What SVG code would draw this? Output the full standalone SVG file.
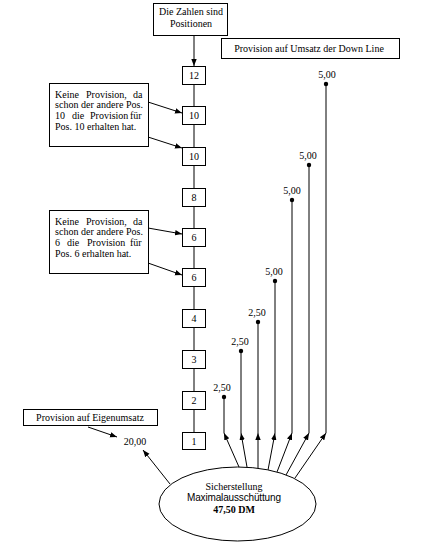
<svg xmlns="http://www.w3.org/2000/svg" width="427" height="551" viewBox="0 0 427 551">
<style>
.bx{fill:#fff;stroke:#000;stroke-width:1}
.ln{stroke:#000;stroke-width:1;fill:none}
.t{font-family:"Liberation Serif",serif;font-size:10px;fill:#000}
.c{text-anchor:middle}
</style>
<defs>
<marker id="ah" markerUnits="userSpaceOnUse" markerWidth="8" markerHeight="7" refX="7" refY="3.5" orient="auto">
<path d="M0,0.8 L7,3.5 L0,6.2 Z" fill="#000"/>
</marker>
<marker id="dot" markerUnits="userSpaceOnUse" markerWidth="6" markerHeight="6" refX="3" refY="3">
<circle cx="3" cy="3" r="2.2" fill="#000"/>
</marker>
</defs>
<rect width="427" height="551" fill="#fff"/>

<g id="connectors">
<line class="ln" x1="194" y1="35" x2="194" y2="66" marker-end="url(#ah)"/>
<path class="ln" d="M194,84.5V106.5 M194,124.5V147.5 M194,165.5V188.5 M194,206.5V228.5 M194,246.5V268.5 M194,286.5V309.5 M194,327.5V350.5 M194,368.5V391.5 M194,409.5V432.5"/>
<line class="ln" x1="148" y1="102" x2="182" y2="113" marker-end="url(#ah)"/>
<line class="ln" x1="148" y1="137" x2="182" y2="148" marker-end="url(#ah)"/>
<line class="ln" x1="148" y1="228" x2="182" y2="234" marker-end="url(#ah)"/>
<line class="ln" x1="148" y1="263" x2="182" y2="275" marker-end="url(#ah)"/>
<line class="ln" x1="88" y1="427" x2="117" y2="437" marker-end="url(#ah)"/>
<line class="ln" x1="170" y1="484" x2="143" y2="450" marker-end="url(#ah)"/>
<line class="ln" x1="239" y1="467" x2="224" y2="433" marker-end="url(#ah)"/>
<line class="ln" x1="247" y1="467" x2="241" y2="433" marker-end="url(#ah)"/>
<line class="ln" x1="258" y1="468" x2="258" y2="433" marker-end="url(#ah)"/>
<line class="ln" x1="268" y1="470" x2="275" y2="433" marker-end="url(#ah)"/>
<line class="ln" x1="277" y1="472" x2="292" y2="433" marker-end="url(#ah)"/>
<line class="ln" x1="286" y1="475" x2="309" y2="433" marker-end="url(#ah)"/>
<line class="ln" x1="295" y1="478" x2="326" y2="433" marker-end="url(#ah)"/>
<line class="ln" x1="224" y1="433" x2="224" y2="397" marker-end="url(#dot)"/>
<line class="ln" x1="241" y1="433" x2="241" y2="351" marker-end="url(#dot)"/>
<line class="ln" x1="258" y1="433" x2="258" y2="322" marker-end="url(#dot)"/>
<line class="ln" x1="275" y1="433" x2="275" y2="281" marker-end="url(#dot)"/>
<line class="ln" x1="292" y1="433" x2="292" y2="200" marker-end="url(#dot)"/>
<line class="ln" x1="309" y1="433" x2="309" y2="165" marker-end="url(#dot)"/>
<line class="ln" x1="326" y1="433" x2="326" y2="84" marker-end="url(#dot)"/>
</g>

<g id="values">
<text class="t c" x="222" y="391">2,50</text>
<text class="t c" x="240" y="345">2,50</text>
<text class="t c" x="257" y="316">2,50</text>
<text class="t c" x="274" y="275">5,00</text>
<text class="t c" x="292" y="194">5,00</text>
<text class="t c" x="308" y="159">5,00</text>
<text class="t c" x="327" y="78">5,00</text>
<text class="t c" x="135" y="445">20,00</text>
</g>

<g id="legend">
<rect class="bx" x="153.5" y="3.5" width="74" height="32"/>
<text class="t c" x="191" y="15">Die Zahlen sind</text>
<text class="t c" x="191" y="27">Positionen</text>
</g>

<g id="n12"><rect class="bx" x="182.5" y="66.5" width="23" height="18"/><text class="t c" x="194" y="79">12</text></g>
<g id="n10a"><rect class="bx" x="182.5" y="106.5" width="23" height="18"/><text class="t c" x="194" y="119">10</text></g>
<g id="n10b"><rect class="bx" x="182.5" y="147.5" width="23" height="18"/><text class="t c" x="194" y="160">10</text></g>
<g id="n8"><rect class="bx" x="182.5" y="188.5" width="23" height="18"/><text class="t c" x="194" y="201">8</text></g>
<g id="n6a"><rect class="bx" x="182.5" y="228.5" width="23" height="18"/><text class="t c" x="194" y="241">6</text></g>
<g id="n6b"><rect class="bx" x="182.5" y="268.5" width="23" height="18"/><text class="t c" x="194" y="281">6</text></g>
<g id="n4"><rect class="bx" x="182.5" y="309.5" width="23" height="18"/><text class="t c" x="194" y="322">4</text></g>
<g id="n3"><rect class="bx" x="182.5" y="350.5" width="23" height="18"/><text class="t c" x="194" y="363">3</text></g>
<g id="n2"><rect class="bx" x="182.5" y="391.5" width="23" height="18"/><text class="t c" x="194" y="404">2</text></g>
<g id="n1"><rect class="bx" x="182.5" y="432.5" width="23" height="17"/><text class="t c" x="194" y="445">1</text></g>

<g id="note10">
<rect class="bx" x="49.5" y="83.5" width="99" height="63"/>
<text class="t" y="98"><tspan x="55">Keine</tspan><tspan x="86">Provision,</tspan><tspan x="133">da</tspan></text>
<text class="t" x="55" y="108" textLength="88" lengthAdjust="spacing">schon der andere Pos.</text>
<text class="t" y="119"><tspan x="55">10</tspan><tspan x="72">die</tspan><tspan x="90">Provision</tspan><tspan x="130">für</tspan></text>
<text class="t" x="55" y="130">Pos. 10 erhalten hat.</text>
</g>

<g id="note6">
<rect class="bx" x="49.5" y="210.5" width="99" height="63"/>
<text class="t" y="225"><tspan x="55">Keine</tspan><tspan x="86">Provision,</tspan><tspan x="133">da</tspan></text>
<text class="t" x="55" y="235" textLength="88" lengthAdjust="spacing">schon der andere Pos.</text>
<text class="t" y="246"><tspan x="55">6</tspan><tspan x="67">die</tspan><tspan x="87">Provision</tspan><tspan x="130">für</tspan></text>
<text class="t" x="55" y="257">Pos. 6 erhalten hat.</text>
</g>

<g id="downline">
<rect class="bx" x="221.5" y="38.5" width="178" height="20"/>
<text class="t c" x="309" y="52">Provision auf Umsatz der Down Line</text>
</g>

<g id="eigen">
<rect class="bx" x="23.5" y="409.5" width="134" height="16"/>
<text class="t c" x="90" y="421">Provision auf Eigenumsatz</text>
</g>

<g id="total">
<ellipse class="bx" cx="237.5" cy="504" rx="78.5" ry="37"/>
<text class="t c" x="234" y="490">Sicherstellung</text>
<text x="234" y="501" text-anchor="middle" font-family="Liberation Sans, sans-serif" font-size="10" textLength="94" lengthAdjust="spacing">Maximalausschüttung</text>
<text class="t c" x="234" y="513" font-weight="bold">47,50 DM</text>
</g>
</svg>
